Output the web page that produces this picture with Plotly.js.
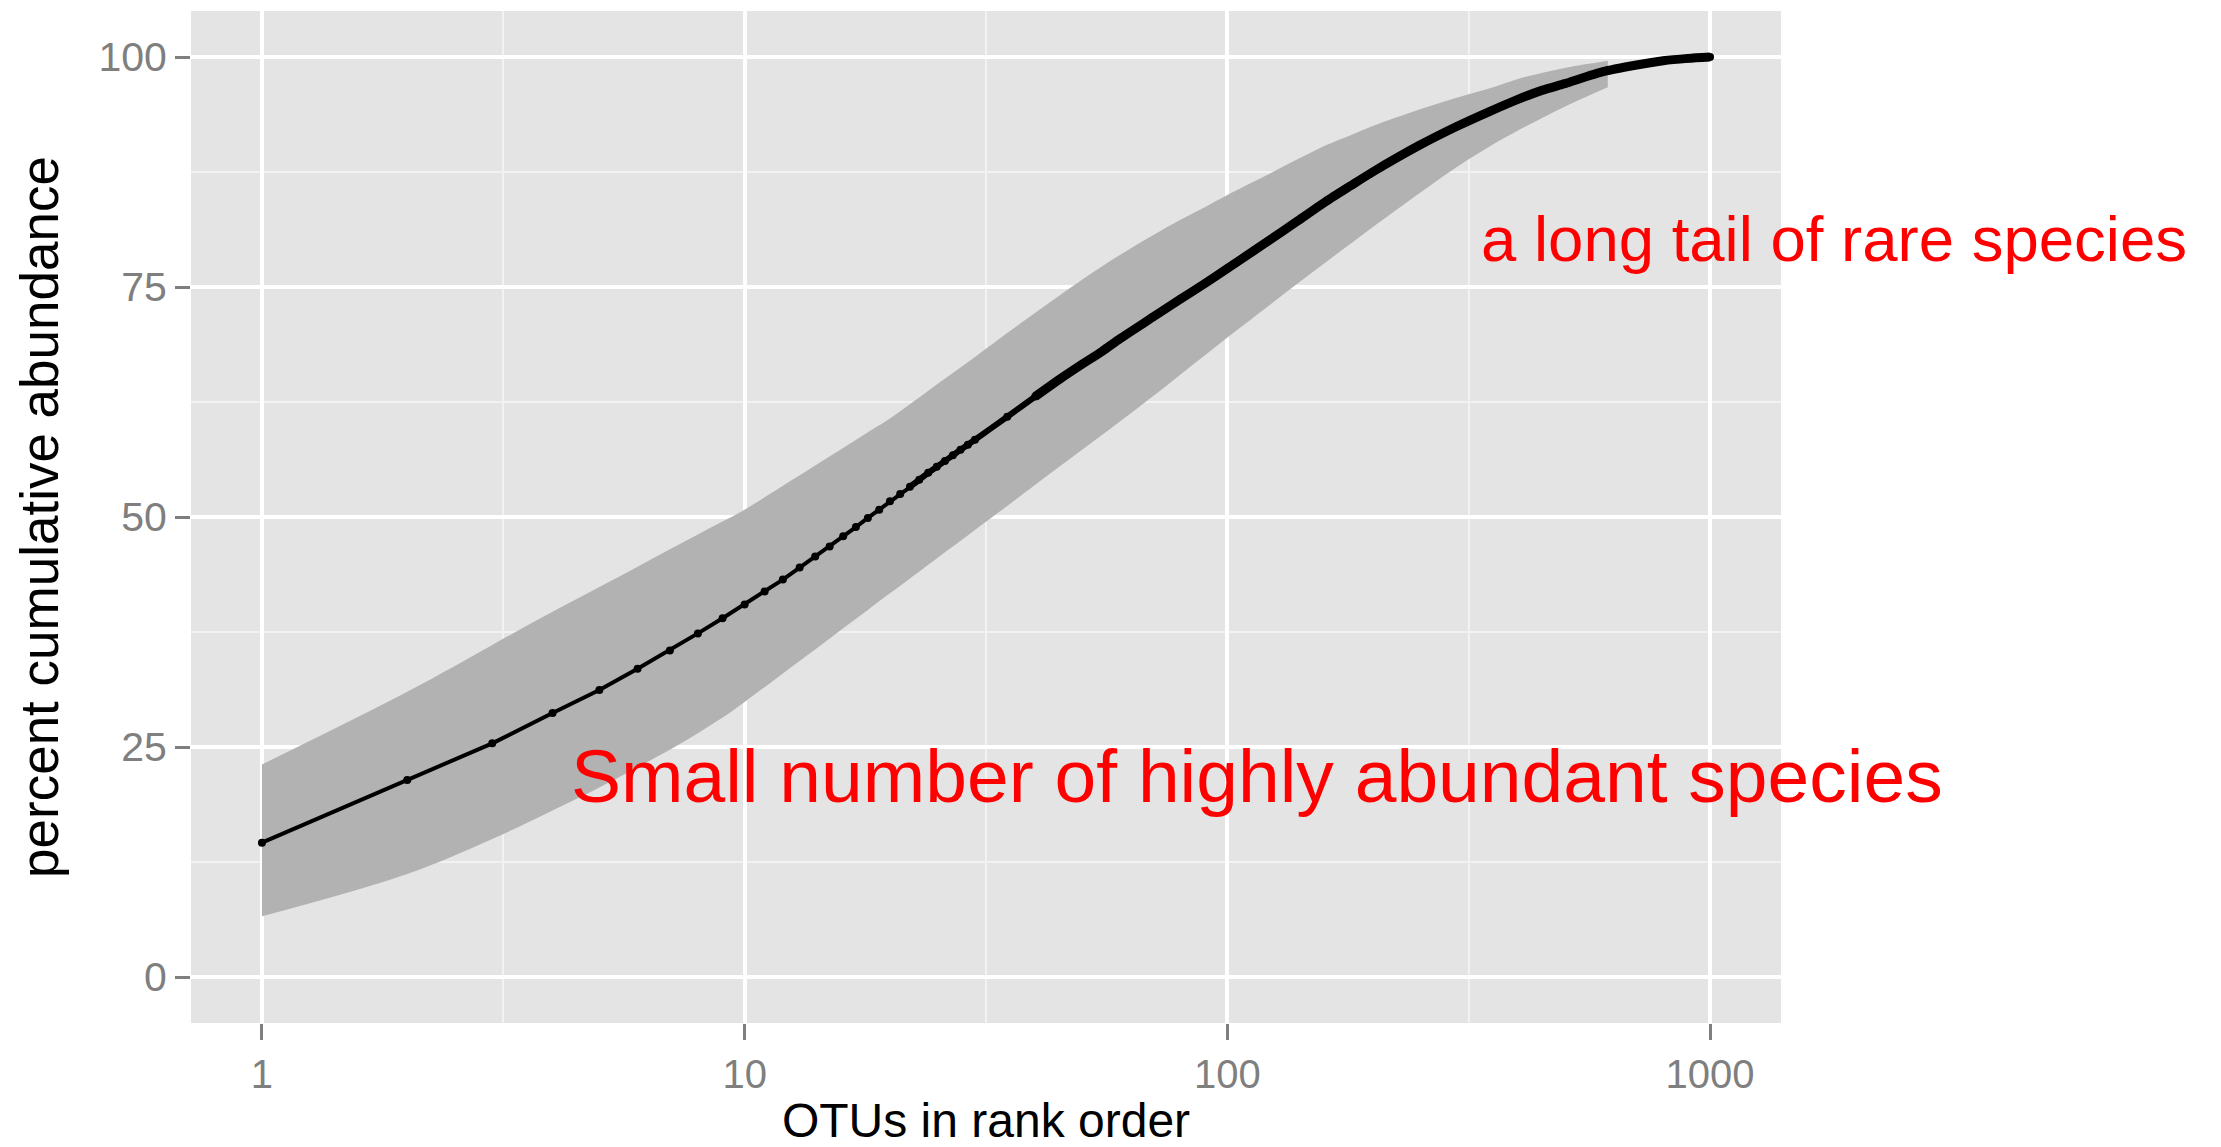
<!DOCTYPE html>
<html>
<head>
<meta charset="utf-8">
<script src="https://cdn.plot.ly/plotly-3.0.1.min.js"></script>
<style>
  html, body { margin: 0; padding: 0; background: #ffffff; }
  #chart { width: 2221px; height: 1147px; }
</style>
</head>
<body>
<div id="chart"></div>
<script>
// OTU rank (x) and mean percent cumulative abundance (y)
const rank = [1,2,3,4,5,6,7,8,9,10,11,12,13,14,15,16,17,18,19,20,21,22,23,24,25,26,27,28,29,30,35,40,45,50,55,60,70,80,90,100,120,140,160,180,200,250,300,350,400,450,500,600,700,800,900,1000];
const meanPct = [14.6,21.4,25.4,28.7,31.2,33.5,35.5,37.35,39.0,40.5,41.9,43.2,44.5,45.7,46.8,47.9,48.9,49.9,50.8,51.7,52.5,53.3,54.05,54.8,55.45,56.1,56.7,57.3,57.85,58.4,60.9,63.1,65.0,66.6,68.0,69.4,71.7,73.7,75.4,77.0,79.8,82.2,84.3,86.0,87.5,90.4,92.5,94.1,95.4,96.4,97.1,98.4,99.1,99.6,99.85,100];

// Ribbon (spread across samples)
const bandRank = [1,2,3,4,5,6,7,8,9,10,12,14,16,18,20,25,30,35,40,50,60,70,80,90,100,120,140,160,180,200,250,300,350,400,450,500,550,614];
const bandUpper = [23.1,31.0,36.1,39.7,42.4,44.6,46.5,48.1,49.5,50.8,53.4,55.6,57.5,59.2,60.7,64.4,67.4,70.0,72.2,75.8,78.5,80.6,82.3,83.7,85.0,87.1,88.9,90.4,91.5,92.5,94.3,95.6,96.6,97.6,98.3,98.8,99.2,99.6];
const bandLower = [6.6,11.2,15.0,18.1,20.6,22.8,24.7,26.5,28.2,29.9,33.0,35.6,37.9,39.9,41.7,45.5,48.6,51.2,53.5,57.3,60.4,63.1,65.5,67.6,69.5,72.7,75.4,77.7,79.7,81.5,85.2,88.1,90.3,92.0,93.4,94.6,95.6,96.7];

// Axis ticks
const xTicks = [1, 10, 100, 1000];
const xTickText = ['1', '10', '100', '1000'];
const xMinor = [3.1623, 31.623, 316.23];
const yTicks = [0, 25, 50, 75, 100];
const yTickText = ['0', '25', '50', '75', '100'];
const yMinor = [12.5, 37.5, 62.5, 87.5];

// Annotations
const notes = [
  { text: 'Small number of highly abundant species', x: 4.32, y: 21.9, size: 75 },
  { text: 'a long tail of rare species', x: 332, y: 80.2, size: 63.5 }
];

const FONT = '"Liberation Sans", Arial, Helvetica, sans-serif';

// the dense run of points reads as a thicker line
function segment(minRank) {
  return {
    x: rank.filter(r => r >= minRank),
    y: meanPct.filter((v, i) => rank[i] >= minRank)
  };
}
const mid = segment(22);
const dense = segment(40);

const traces = [
  { x: bandRank, y: bandLower, type: 'scatter', mode: 'lines',
    line: { width: 0, shape: 'spline', smoothing: 1 }, hoverinfo: 'skip', showlegend: false },
  { x: bandRank, y: bandUpper, type: 'scatter', mode: 'lines', fill: 'tonexty',
    fillcolor: '#B2B2B2', line: { width: 0, shape: 'spline', smoothing: 1 },
    hoverinfo: 'skip', showlegend: false },
  { x: mid.x, y: mid.y, type: 'scatter', mode: 'lines',
    line: { color: '#000000', width: 6, shape: 'spline', smoothing: 0.6 }, hoverinfo: 'skip', showlegend: false },
  { x: dense.x, y: dense.y, type: 'scatter', mode: 'lines',
    line: { color: '#000000', width: 9, shape: 'spline', smoothing: 0.6 }, hoverinfo: 'skip', showlegend: false },
  { x: rank, y: meanPct, type: 'scatter', mode: 'lines+markers',
    line: { color: '#000000', width: 4 },
    marker: { color: '#000000', size: 8 }, showlegend: false }
];

const layout = {
  width: 2221, height: 1147,
  margin: { l: 191, r: 440, t: 11, b: 124, pad: 0 },
  paper_bgcolor: '#FFFFFF',
  plot_bgcolor: '#E4E4E4',
  showlegend: false,
  font: { family: FONT, color: '#7F7F7F' },
  xaxis: {
    type: 'log', range: [-0.147, 3.147],
    tickvals: xTicks, ticktext: xTickText,
    ticks: 'outside', ticklen: 16, tickwidth: 3, tickcolor: '#7F7F7F',
    tickfont: { family: FONT, size: 40, color: '#7F7F7F' },
    showgrid: true, gridcolor: '#FFFFFF', gridwidth: 4,
    minor: { tickvals: xMinor, showgrid: true, gridcolor: '#F2F2F2', gridwidth: 2, ticks: '' },
    zeroline: false, showline: false, automargin: false,
    title: { text: 'OTUs in rank order', font: { family: FONT, size: 48, color: '#000000' }, standoff: 13 }
  },
  yaxis: {
    range: [-5, 105],
    tickvals: yTicks, ticktext: yTickText,
    ticks: 'outside', ticklen: 15, tickwidth: 3, tickcolor: '#7F7F7F',
    tickfont: { family: FONT, size: 41, color: '#7F7F7F' },
    showgrid: true, gridcolor: '#FFFFFF', gridwidth: 4,
    minor: { tickvals: yMinor, showgrid: true, gridcolor: '#F2F2F2', gridwidth: 2, ticks: '' },
    zeroline: false, showline: false, automargin: false,
    title: { text: 'percent cumulative abundance', font: { family: FONT, size: 53, color: '#000000' }, standoff: 22 }
  },
  annotations: notes.map(n => ({
    text: n.text, x: Math.log10(n.x), y: n.y, xref: 'x', yref: 'y',
    xanchor: 'left', yanchor: 'middle', showarrow: false,
    font: { family: FONT, size: n.size, color: '#FF0000' }
  }))
};

Plotly.newPlot('chart', traces, layout, { staticPlot: true, displayModeBar: false });
</script>
</body>
</html>
